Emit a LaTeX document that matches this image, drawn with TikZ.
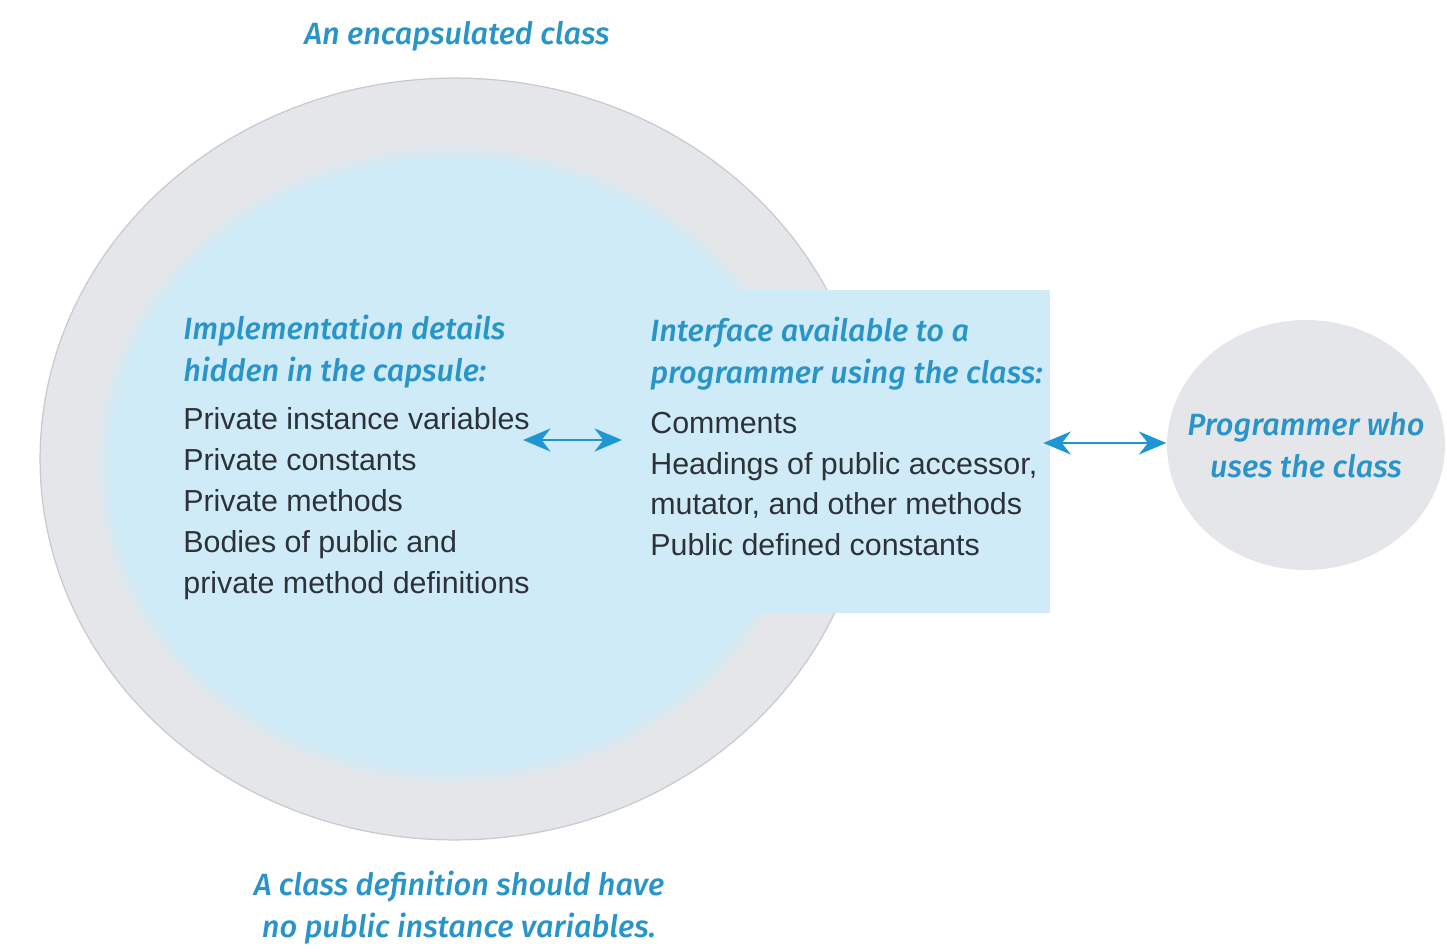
\documentclass[tikz,border=0pt]{standalone}
\usepackage{fontspec}
\setmainfont{Liberation Sans}
\newfontfamily\notefont{Fira Sans}[ItalicFont={Fira Sans Medium Italic}]
\usetikzlibrary{arrows.meta,shapes.geometric}

\definecolor{capsgray}{RGB}{229,230,233}
\definecolor{capsedge}{RGB}{200,202,206}
\definecolor{capsblue}{RGB}{207,235,248}
\definecolor{noteblue}{RGB}{40,148,200}
\definecolor{arrowblue}{RGB}{30,150,212}
\definecolor{listgray}{RGB}{45,50,56}

\begin{document}
\begin{tikzpicture}[x=0.02cm, y=-0.02cm,
    note/.style={font=\notefont\itshape\fontsize{17.5}{23.9}\selectfont, text=noteblue, align=left, inner sep=0pt},
    list/.style={font=\fontsize{17.3}{23.3}\selectfont, text=listgray, align=left, inner sep=0pt},
    blob/.style={ellipse, fill=capsgray, draw=capsedge, line width=0.7pt, inner sep=0pt},
    arrow/.style={{Stealth[length=5.5mm,width=4.6mm]}-{Stealth[length=5.5mm,width=4.6mm]}, line width=1.6pt, color=arrowblue}
  ]
    \useasboundingbox (0,0) rectangle (1447,951);

    \node[blob, minimum width=16.6cm, minimum height=15.24cm] (capsule) at (455,459) {};
    % soft edge of the capsule's inside
    \foreach \i in {0,...,7}
      \fill[capsblue!\the\numexpr 30+\i*10\relax!capsgray] (452,465) ellipse [x radius=355-2*\i, y radius=318-2*\i];
    \node[fill=capsblue, minimum width=8.2cm, minimum height=6.46cm] (iface) at (845,451.5) {};
    \node[blob, draw=none, minimum width=5.56cm, minimum height=5cm] (user) at (1306,445) {};

    \node[note] (title) at (457,36) {An encapsulated class};
    \node[note, anchor=west] (hidetitle) at (183,352) {Implementation details\\hidden in the capsule:};
    \node[list, anchor=west] (hidelist) at (183,504) {Private instance variables\\Private constants\\Private methods\\Bodies of public and\\private method definitions};
    \node[note, anchor=west] (iftitle) at (650,354) {Interface available to a\\programmer using the class:};
    \node[list, anchor=west] (iflist) at (650,484) {Comments\\Headings of public accessor,\\mutator, and other methods\\Public defined constants};
    \node[note, align=center] (usertext) at (user) {Programmer who\\uses the class};
    \node[note, align=center] (rule) at (459,908) {A class definition should have\\no public instance variables.};

    \coordinate (hideport) at (523,440);
    \coordinate (ifport) at (622,440);
    \draw[arrow] (hideport) -- (ifport);
    \draw[arrow] ([shift={(-7,-8.5)}]iface.east) -- ([shift={(0,-2)}]user.west);
  \end{tikzpicture}
\end{document}
